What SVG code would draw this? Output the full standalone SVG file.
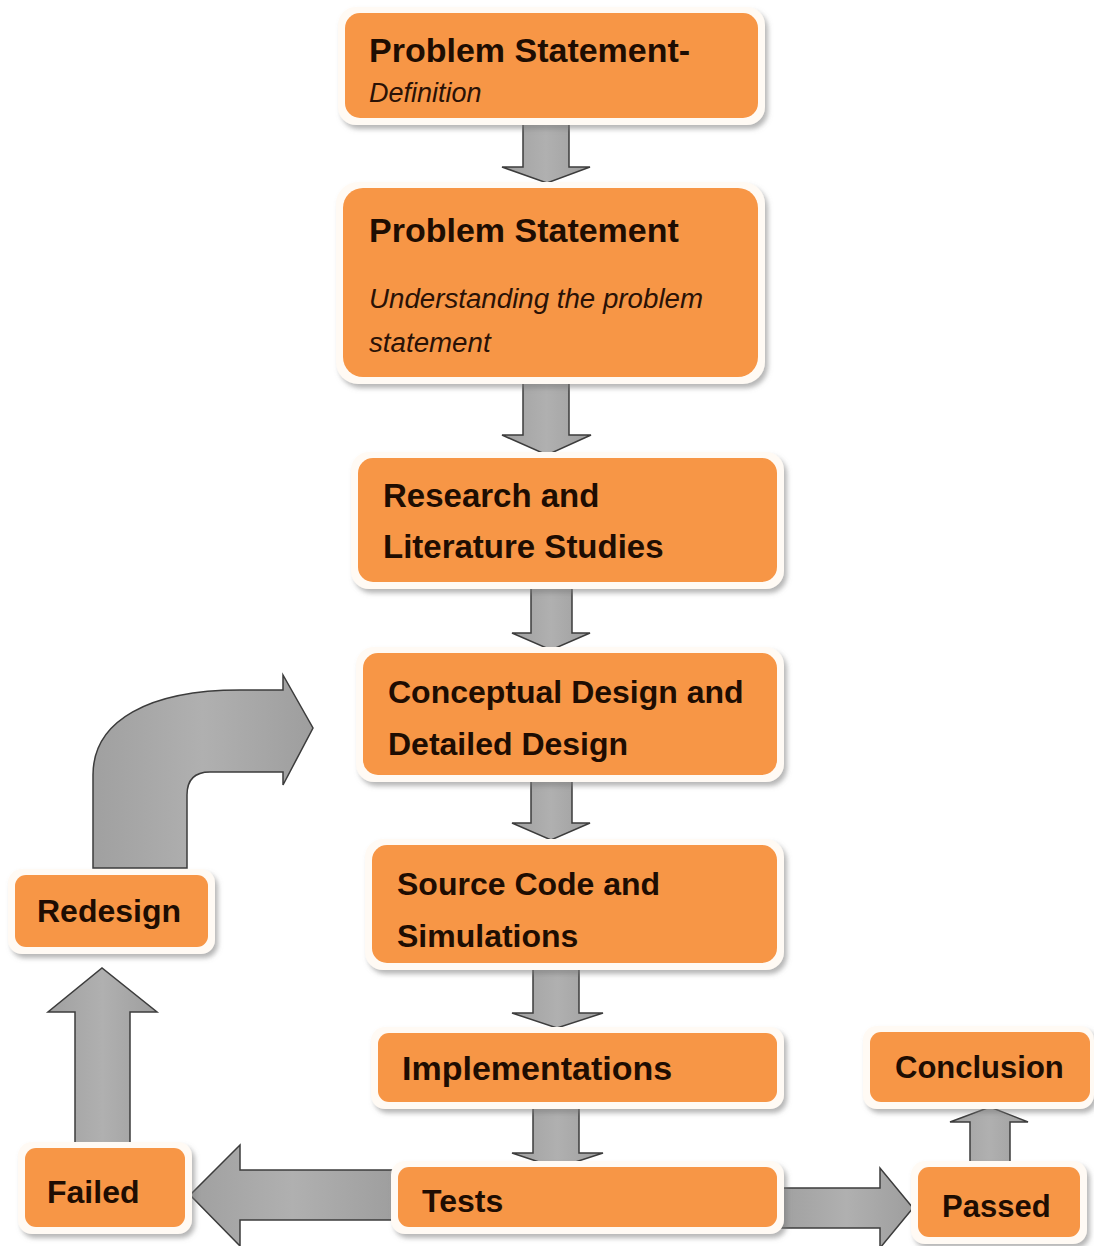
<svg xmlns="http://www.w3.org/2000/svg" width="1094" height="1246" viewBox="0 0 1094 1246">
<defs>
<filter id="sh" x="-10%" y="-10%" width="125%" height="135%">
<feDropShadow dx="3" dy="4" stdDeviation="2.5" flood-color="#7a7a7a" flood-opacity="0.55"/>
</filter>
<linearGradient id="ag" x1="0" y1="0" x2="1" y2="0">
<stop offset="0" stop-color="#a0a0a0"/>
<stop offset="0.5" stop-color="#b0b0b0"/>
<stop offset="1" stop-color="#9e9e9e"/>
</linearGradient>
</defs>
<style>
.frame{fill:#fffaf4;filter:url(#sh)}
.box{fill:#f79646}
.t{font-family:"Liberation Sans",Arial,sans-serif;font-weight:bold;fill:#1e0d02}
.it{font-family:"Liberation Sans",Arial,sans-serif;font-style:italic;fill:#2a1206}
.arr{fill:url(#ag);stroke:#3c3c3c;stroke-width:1.5;stroke-linejoin:miter}
</style>
<rect width="1094" height="1246" fill="#ffffff"/>

<g id="connectors">
<path class="arr" d="M523 123 L569 123 L569 167 L590 167 L547 183 L502 167 L523 167 Z"/>
<path class="arr" d="M523 379 L569 379 L569 435 L591 435 L547 455 L502 435 L523 435 Z"/>
<path class="arr" d="M531 587 L572 587 L572 633 L590 633 L551 650 L512 633 L531 633 Z"/>
<path class="arr" d="M531 779 L572 779 L572 823 L590 823 L551 840 L512 823 L531 823 Z"/>
<path class="arr" d="M533 968 L579 968 L579 1013 L603 1013 L557 1028 L512 1013 L533 1013 Z"/>
<path class="arr" d="M533 1106 L579 1106 L579 1153 L603 1153 L557 1168 L512 1153 L533 1153 Z"/>
<path class="arr" d="M396 1170 L240 1170 L240 1145 L190 1195 L240 1246 L240 1220 L396 1220 Z"/>
<path class="arr" d="M780 1188 L880 1188 L880 1168 L913 1208 L880 1248 L880 1228 L780 1228 Z"/>
<path class="arr" d="M75 1145 L75 1012 L48 1012 L102 968 L157 1012 L130 1012 L130 1145 Z"/>
<path class="arr" d="M970 1167 L970 1122 L950 1122 L990 1107 L1028 1122 L1010 1122 L1010 1167 Z"/>
<path class="arr" d="M93 868 L93 775 C93 720 150 690 240 690 L283 690 L283 675 L313 728 L283 785 L283 772 L210 772 Q187 772 187 795 L187 868 Z"/>
</g>

<g id="n1">
<rect class="frame" x="338" y="7" width="427" height="118" rx="18"/>
<rect class="box" x="345" y="13" width="413" height="105" rx="15"/>
<text class="t" x="369" y="62" style="font-size:34px">Problem Statement-</text>
<text class="it" x="369" y="102" style="font-size:27px">Definition</text>
</g>

<g id="n2">
<rect class="frame" x="336" y="182" width="429" height="202" rx="22"/>
<rect class="box" x="343" y="188" width="415" height="189" rx="20"/>
<text class="t" x="369" y="242" style="font-size:34px">Problem Statement</text>
<text class="it" x="369" y="308" style="font-size:27.7px">Understanding the problem</text>
<text class="it" x="369" y="352" style="font-size:27.7px">statement</text>
</g>

<g id="n3">
<rect class="frame" x="351" y="452" width="433" height="137" rx="18"/>
<rect class="box" x="358" y="458" width="419" height="124" rx="15"/>
<text class="t" x="383" y="507" style="font-size:33px">Research and</text>
<text class="t" x="383" y="558" style="font-size:33px">Literature Studies</text>
</g>

<g id="n4">
<rect class="frame" x="356" y="647" width="428" height="135" rx="18"/>
<rect class="box" x="363" y="653" width="414" height="122" rx="15"/>
<text class="t" x="388" y="703" style="font-size:32px">Conceptual Design and</text>
<text class="t" x="388" y="755" style="font-size:32px">Detailed Design</text>
</g>

<g id="n5">
<rect class="frame" x="365" y="839" width="419" height="131" rx="18"/>
<rect class="box" x="372" y="845" width="405" height="118" rx="15"/>
<text class="t" x="397" y="895" style="font-size:32px">Source Code and</text>
<text class="t" x="397" y="947" style="font-size:32px">Simulations</text>
</g>

<g id="n6">
<rect class="frame" x="371" y="1027" width="413" height="82" rx="14"/>
<rect class="box" x="378" y="1033" width="399" height="69" rx="11"/>
<text class="t" x="402" y="1080" style="font-size:34px">Implementations</text>
</g>

<g id="n7">
<rect class="frame" x="391" y="1161" width="393" height="73" rx="14"/>
<rect class="box" x="398" y="1167" width="379" height="60" rx="11"/>
<text class="t" x="422" y="1212" style="font-size:32px">Tests</text>
</g>

<g id="n8">
<rect class="frame" x="18" y="1142" width="174" height="92" rx="14"/>
<rect class="box" x="25" y="1148" width="160" height="79" rx="11"/>
<text class="t" x="47" y="1203" style="font-size:32px">Failed</text>
</g>

<g id="n9">
<rect class="frame" x="8" y="869" width="207" height="85" rx="14"/>
<rect class="box" x="15" y="875" width="193" height="72" rx="11"/>
<text class="t" x="37" y="922" style="font-size:32px">Redesign</text>
</g>

<g id="n10">
<rect class="frame" x="911" y="1161" width="176" height="83" rx="14"/>
<rect class="box" x="918" y="1167" width="162" height="70" rx="11"/>
<text class="t" x="942" y="1217" style="font-size:31px">Passed</text>
</g>

<g id="n11">
<rect class="frame" x="863" y="1026" width="231" height="83" rx="14"/>
<rect class="box" x="870" y="1032" width="220" height="70" rx="11"/>
<text class="t" x="895" y="1078" style="font-size:31px">Conclusion</text>
</g>
</svg>
